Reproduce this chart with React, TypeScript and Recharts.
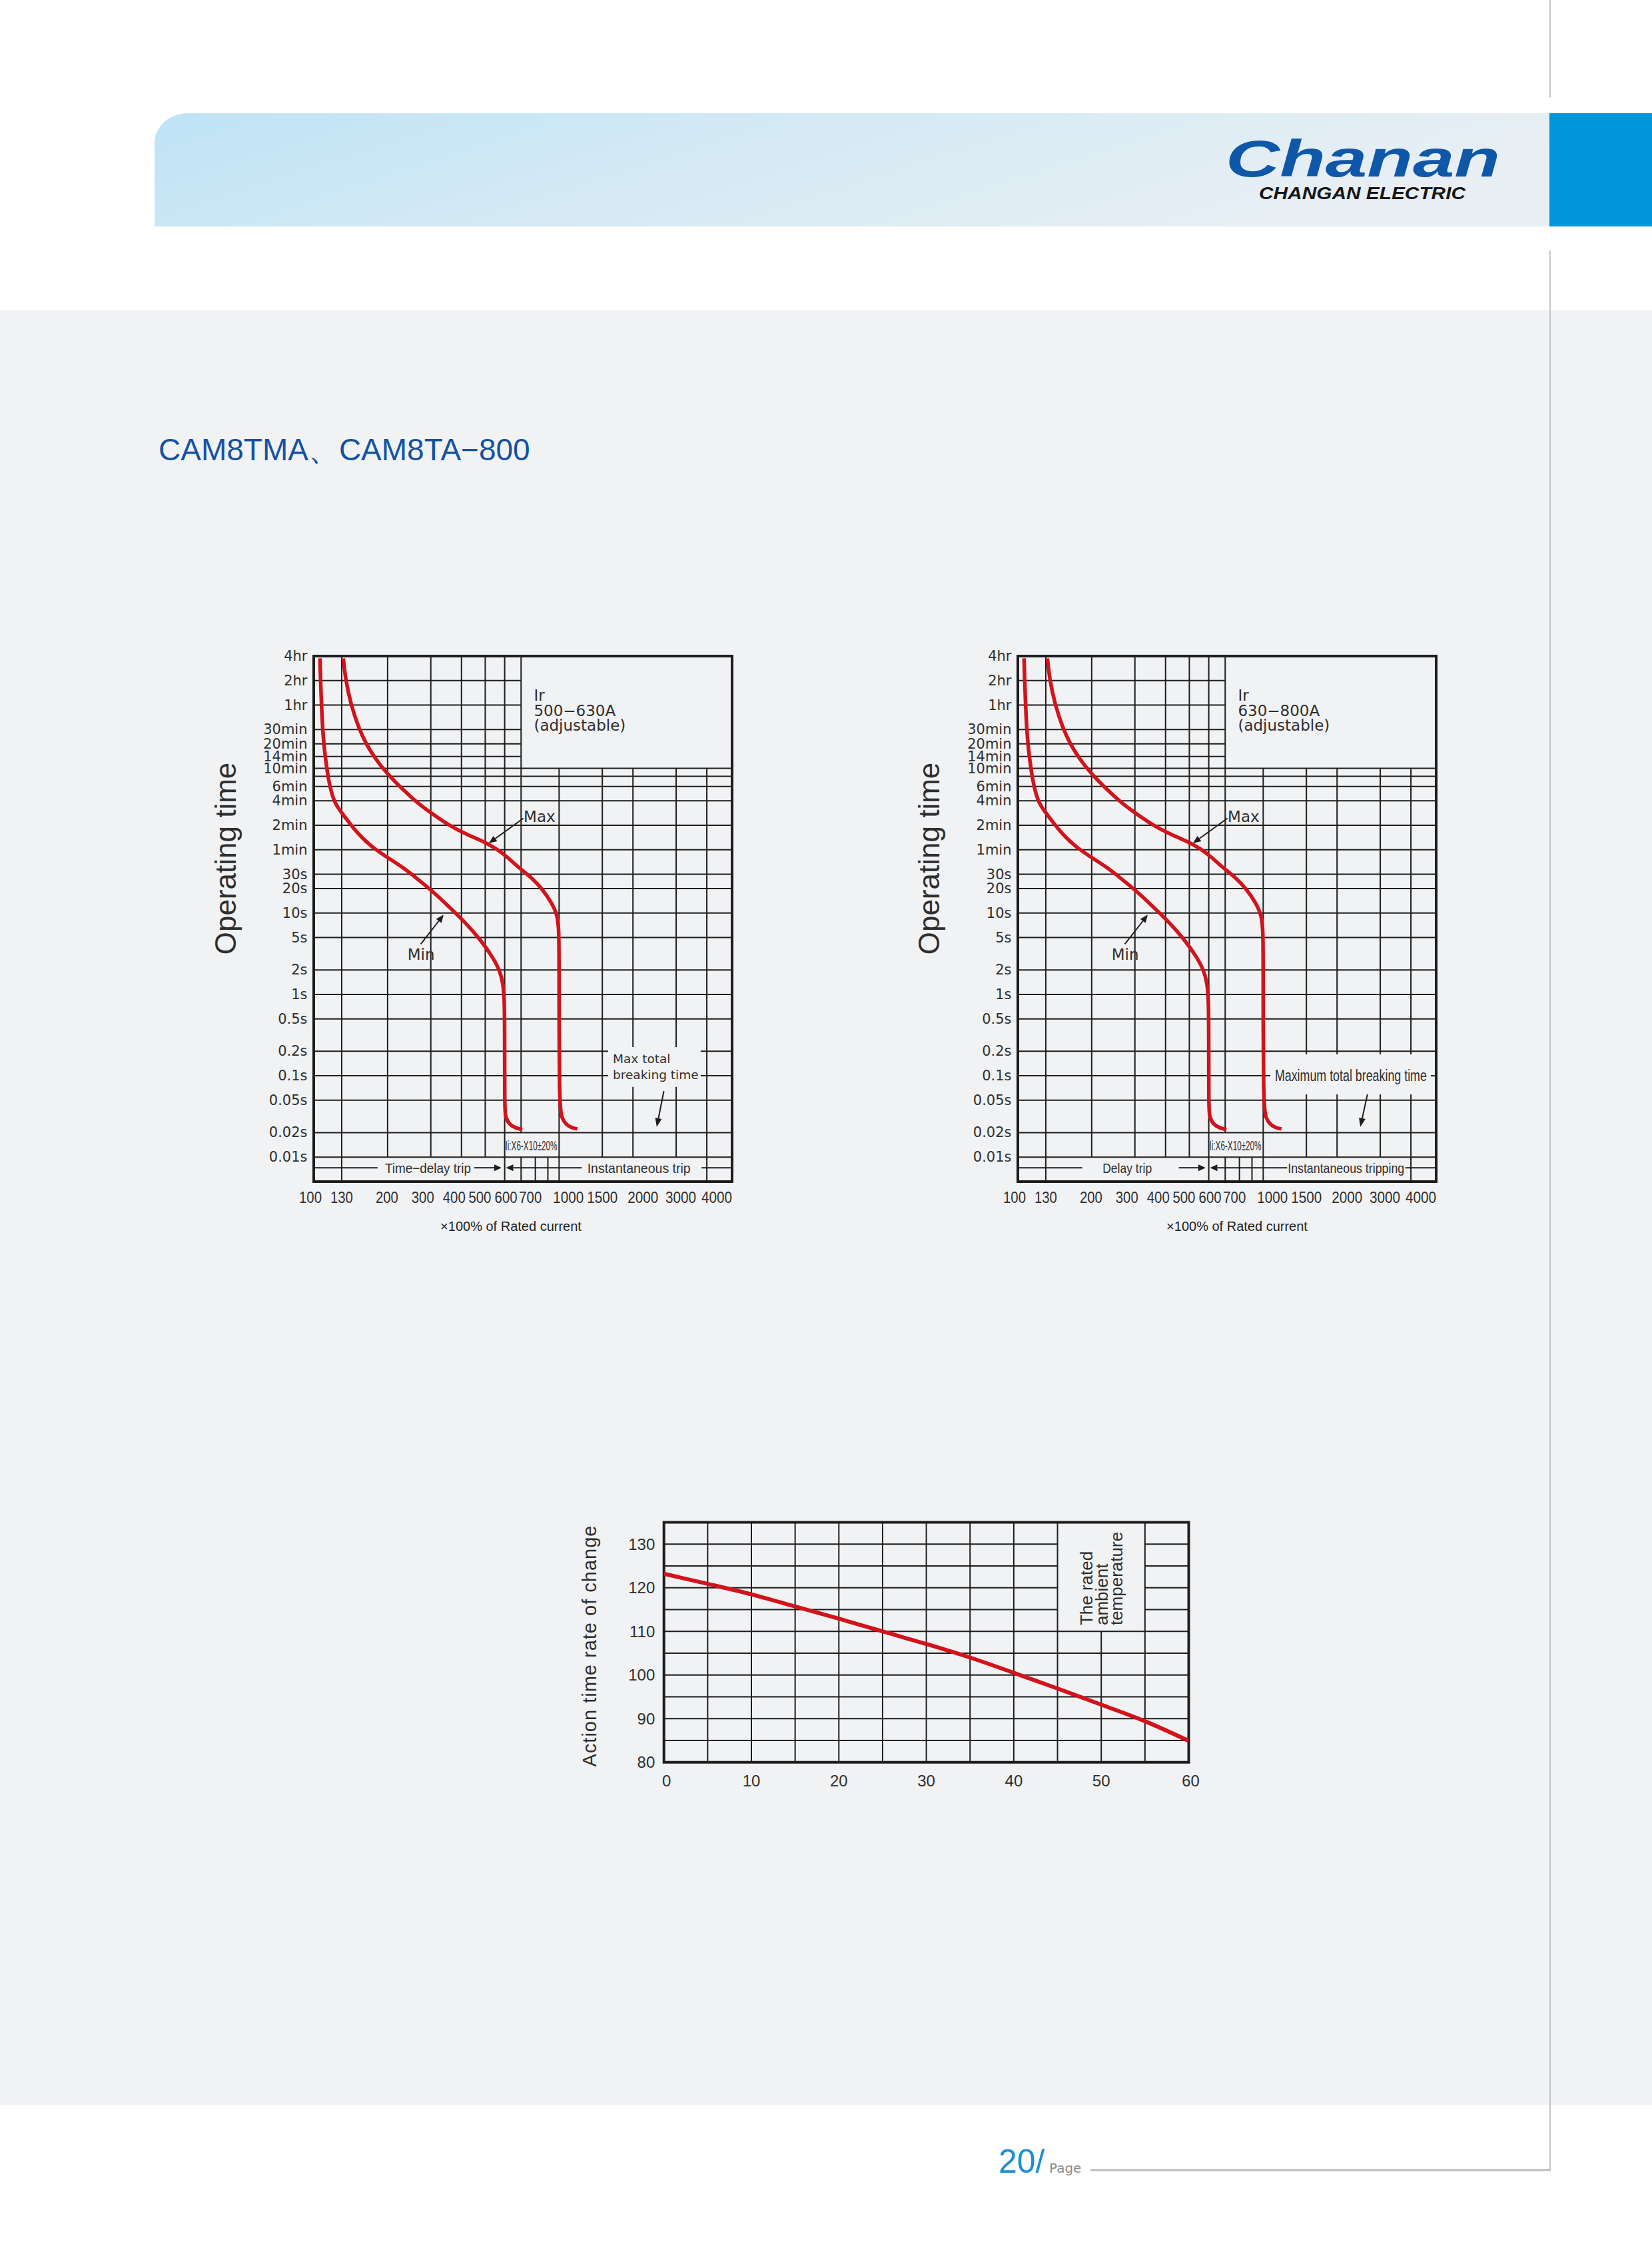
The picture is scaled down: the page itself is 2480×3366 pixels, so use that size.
import React from "react";
import { LineChart, Line, XAxis, YAxis, ReferenceLine, ReferenceDot, ReferenceArea } from "recharts";

const SANS = "'Liberation Sans', Arial, Helvetica, sans-serif";
const WIDE = "'DejaVu Sans', Verdana, sans-serif";
const RED = "#d2131c";
const INK = "#1d1d1d";
const TXT = "#2e2e2e";
const PAGE_GREY = "#f1f2f4";

// time-current curves: [multiple of rated current (%), operating time (s)]
const minCurve: [number, number][] = [
  [106, 13500], [106.6, 7540], [107.5, 3590], [108.7, 1880], [110, 1170], [111.6, 800],
  [112.8, 640], [114.7, 446], [117.6, 318], [121.4, 231], [127.8, 182], [136.1, 142],
  [145.8, 109], [157.9, 83], [174.9, 63], [200, 48], [229, 37], [262, 27], [300, 19.3],
  [344, 13.2], [422, 7.3], [483, 4.5], [535, 2.9], [572, 2.0], [592, 1.36], [599, 0.8],
  [600, 0.3], [600, 0.043], [603, 0.031], [628, 0.025], [662, 0.0229], [708, 0.0218],
];
const maxCurve: [number, number][] = [
  [132, 13500], [134.6, 7540], [141.9, 3590], [152.5, 1880], [164, 1170], [178.2, 800],
  [187.8, 640], [208.6, 446], [233.9, 318], [262, 231], [294, 178], [356, 119], [422, 92],
  [490, 76], [555, 62], [617, 48.5], [678, 37], [776, 27], [859, 19.3], [935, 13.2], [983, 9.5],
  [998, 6.2], [1000, 3], [1000, 0.043], [1025, 0.03], [1069, 0.025], [1126, 0.0229], [1187, 0.0222],
];

const currentTicks = [100, 130, 200, 300, 400, 500, 600, 700, 1000, 1500, 2000, 3000, 4000];
const timeTicks = [14400, 7200, 3600, 1800, 1200, 840, 600, 360, 240, 120, 60, 30, 20, 10, 5, 2, 1, 0.5, 0.2, 0.1, 0.05, 0.02, 0.01];
const timeLabels = ["4hr", "2hr", "1hr", "30min", "20min", "14min", "10min", "6min", "4min", "2min", "1min", "30s", "20s", "10s", "5s", "2s", "1s", "0.5s", "0.2s", "0.1s", "0.05s", "0.02s", "0.01s"];
const unlabeledTimeLines = [480];
const tripRowCurrents = [800, 900];

// ambient temperature correction
const ambientTemp = [0, 5, 10, 15, 20, 25, 30, 35, 40, 45, 50, 55, 60];
const rateOfChange = [123.2, 120.9, 118.5, 115.7, 112.9, 110, 107.1, 104, 100.5, 96.9, 93.2, 89.4, 84.9];
const tempTicks = [0, 10, 20, 30, 40, 50, 60];
const rateTicks = [80, 90, 100, 110, 120, 130];
const tempGrid = [5, 10, 15, 20, 25, 30, 35, 40, 45, 50, 55];
const rateGrid = [85, 90, 95, 100, 105, 110, 115, 120, 125, 130];

const X_MIN = 100;
const X_MAX = 5070;
const T_MIN = 0.005;
const T_MAX = 14400;
const T_ROW = 0.0074;

type Seg = [number, number, number, number];

const currentNudge: Record<number, number> = {
  100: -5, 130: 0, 200: -1, 300: -12, 400: -11, 500: -8, 600: 2, 700: 14,
  1000: 14, 1500: 0, 2000: 15, 3000: 7, 4000: 15,
};

const segLines = (segs: Seg[], prefix: string, width = 2) =>
  segs.map(([x1, y1, x2, y2], k) => (
    <ReferenceLine
      key={`${prefix}${k}`}
      segment={[{ x: x1, y: y1 }, { x: x2, y: y2 }]}
      stroke={INK}
      strokeWidth={width}
      ifOverflow="visible"
      zIndex={-50}
    />
  ));

const arrowShape = (len = 12, half = 5) => (p: any) => {
  const { x1, y1, x2, y2 } = p;
  const dx = x2 - x1;
  const dy = y2 - y1;
  const d = Math.hypot(dx, dy) || 1;
  const ux = dx / d;
  const uy = dy / d;
  const bx = x2 - ux * len;
  const by = y2 - uy * len;
  return (
    <g>
      <line x1={x1} y1={y1} x2={bx} y2={by} stroke={INK} strokeWidth={2} />
      <polygon
        points={`${x2},${y2} ${bx - uy * half},${by + ux * half} ${bx + uy * half},${by - ux * half}`}
        fill={INK}
      />
    </g>
  );
};

const arrow = (key: string, x1: number, y1: number, x2: number, y2: number, len?: number, half?: number) => (
  <ReferenceLine
    key={key}
    segment={[{ x: x1, y: y1 }, { x: x2, y: y2 }]}
    ifOverflow="visible"
    shape={arrowShape(len, half)}
    zIndex={600}
  />
);

const note = (key: string, x: number, y: number, render: (cx: number, cy: number) => React.ReactNode) => (
  <ReferenceDot
    key={key}
    x={x}
    y={y}
    r={1}
    ifOverflow="visible"
    zIndex={600}
    shape={(p: any) => <g>{render(p.cx, p.cy)}</g>}
  />
);

type Gap = { x0: number; x1: number; t0: number; t1: number; hBroken: number[] };

function tripGrid(gap: Gap): Seg[] {
  const s: Seg[] = [];
  for (const x of currentTicks.slice(1)) {
    if (x === 130 || x === 600) s.push([x, T_MIN, x, T_MAX]);
    else if (x === 700) {
      s.push([x, T_MIN, x, 0.01]);
      s.push([x, 0.02, x, T_MAX]);
    } else if (x < 700) s.push([x, 0.01, x, T_MAX]);
    else {
      const lo = x === 1000 || x === 4000 ? T_MIN : 0.01;
      if (x > gap.x0 && x < gap.x1) {
        s.push([x, lo, x, gap.t0]);
        s.push([x, gap.t1, x, 600]);
      } else s.push([x, lo, x, 600]);
    }
  }
  for (const x of tripRowCurrents) s.push([x, T_MIN, x, 0.01]);
  for (const t of [...timeTicks, ...unlabeledTimeLines]) {
    if (t >= T_MAX) continue;
    if (t > 600) s.push([X_MIN, t, 700, t]);
    else if (gap.hBroken.includes(t)) {
      s.push([X_MIN, t, gap.x0, t]);
      s.push([gap.x1, t, X_MAX, t]);
    } else s.push([X_MIN, t, X_MAX, t]);
  }
  return s;
}

const TimeTick = ({ x, y, payload }: any) => (
  <text x={x} y={y} textAnchor="end" dominantBaseline="central" fontFamily={WIDE} fontSize={21} fill={TXT}>
    {timeLabels[timeTicks.indexOf(payload.value)]}
  </text>
);

const CurrentTick = ({ x, y, payload }: any) => {
  const v = payload.value as number;
  const label = String(v);
  return (
    <text
      x={x + (currentNudge[v] ?? 0)}
      y={y + 23}
      textAnchor="middle"
      dominantBaseline="central"
      fontFamily={SANS}
      fontSize={24}
      fill={TXT}
      textLength={label.length > 3 ? 46 : 34}
      lengthAdjust="spacingAndGlyphs"
    >
      {label}
    </text>
  );
};

type TripConfig = {
  left: number;
  rating: string;
  gap: Gap;
  rowPlain: [number, number][];
  toRight: [number, number];
  toLeft: [number, number];
  rowLabels: [string, number, number][];
  breakingArrow: [number, number, number, number];
  twoLineBreaking: boolean;
};

const tripA: TripConfig = {
  left: 300,
  rating: "500−630A",
  gap: { x0: 1584, x1: 3777, t0: 0.073, t1: 0.225, hBroken: [0.2, 0.1] },
  rowPlain: [[X_MIN, 182], [3807, X_MAX]],
  toRight: [451, 583],
  toLeft: [1237, 607],
  rowLabels: [["Time−delay trip", 292, 129], ["Instantaneous  trip", 2115, 155]],
  breakingArrow: [2673, 0.0649, 2500, 0.0236],
  twoLineBreaking: true,
};

const tripB: TripConfig = {
  left: 1357,
  rating: "630−800A",
  gap: { x0: 1069, x1: 4820, t0: 0.059, t1: 0.183, hBroken: [0.1] },
  rowPlain: [[X_MIN, 183], [3795, X_MAX]],
  toRight: [453, 583],
  toLeft: [1252, 607],
  rowLabels: [["Delay trip", 279, 74], ["Instantaneous tripping", 2176, 175]],
  breakingArrow: [2660, 0.0591, 2489, 0.0236],
  twoLineBreaking: false,
};

function TripCurveChart({ cfg }: { cfg: TripConfig }) {
  const minData = minCurve.map(([i, t]) => ({ i, t }));
  const maxData = maxCurve.map(([i, t]) => ({ i, t }));
  const rowSegs: Seg[] = cfg.rowPlain.map(([a, b]) => [a, T_ROW, b, T_ROW]);
  return (
    <div style={{ position: "absolute", left: cfg.left, top: 940 }}>
      <LineChart width={860} height={940} margin={{ top: 45, right: 61, bottom: 56, left: 51 }}>
        <XAxis
          dataKey="i"
          type="number"
          scale="log"
          domain={[X_MIN, X_MAX]}
          allowDataOverflow
          ticks={currentTicks}
          interval={0}
          height={50}
          axisLine={false}
          tickLine={false}
          tickSize={0}
          tickMargin={0}
          tick={<CurrentTick />}
        />
        <YAxis
          type="number"
          scale="log"
          domain={[T_MIN, T_MAX]}
          allowDataOverflow
          ticks={timeTicks}
          interval={0}
          width={120}
          axisLine={false}
          tickLine={false}
          tickSize={0}
          tickMargin={9.5}
          tick={<TimeTick />}
        />
        {segLines(tripGrid(cfg.gap), "g")}
        {segLines(rowSegs, "r")}
        <ReferenceArea
          x1={X_MIN}
          x2={X_MAX}
          y1={T_MIN}
          y2={T_MAX}
          fill="none"
          stroke={INK}
          strokeWidth={4}
          ifOverflow="visible"
          zIndex={-40}
        />
        <Line data={minData} dataKey="t" type="basis" stroke={RED} strokeWidth={5.5} dot={false} activeDot={false} isAnimationActive={false} />
        <Line data={maxData} dataKey="t" type="basis" stroke={RED} strokeWidth={5.5} dot={false} activeDot={false} isAnimationActive={false} />

        {arrow("ar", cfg.toRight[0], T_ROW, cfg.toRight[1], T_ROW, 11, 5)}
        {arrow("al", cfg.toLeft[0], T_ROW, cfg.toLeft[1], T_ROW, 11, 5)}
        {cfg.rowLabels.map(([label, x, w], k) =>
          note(`rl${k}`, x, T_ROW, (cx, cy) => (
            <text x={cx} y={cy} textAnchor="middle" dominantBaseline="central" fontFamily={SANS} fontSize={21} fill={TXT} textLength={w} lengthAdjust="spacingAndGlyphs">
              {label}
            </text>
          ))
        )}
        {note("ii", 770, 0.0138, (cx, cy) => (
          <text x={cx} y={cy} textAnchor="middle" dominantBaseline="central" fontFamily={SANS} fontSize={20} fill={TXT} textLength={78} lengthAdjust="spacingAndGlyphs">
            Ii:X6-X10±20%
          </text>
        ))}
        {note("ir", 789, 4072, (cx, cy) => (
          <text x={cx} y={cy} fontFamily={WIDE} fontSize={23} fill={TXT}>
            <tspan x={cx} dy={0}>Ir</tspan>
            <tspan x={cx} dy={23}>{cfg.rating}</tspan>
            <tspan x={cx} dy={22}>(adjustable)</tspan>
          </text>
        ))}
        {note("max", 717, 132, (cx, cy) => (
          <text x={cx} y={cy} fontFamily={WIDE} fontSize={23} fill={TXT}>Max</text>
        ))}
        {arrow("amax", 715, 146, 517, 72, 12, 5)}
        {note("min", 241, 2.66, (cx, cy) => (
          <text x={cx} y={cy} fontFamily={WIDE} fontSize={23} fill={TXT}>Min</text>
        ))}
        {arrow("amin", 273, 4.15, 338.5, 9.54, 12, 5)}
        {cfg.twoLineBreaking
          ? note("brk", 1656, 0.1433, (cx, cy) => (
              <text x={cx} y={cy} fontFamily={WIDE} fontSize={18.5} fill={TXT}>
                <tspan x={cx} dy={0}>Max total</tspan>
                <tspan x={cx} dy={24}>breaking time</tspan>
              </text>
            ))
          : note("brk", 1116, 0.1, (cx, cy) => (
              <text x={cx} y={cy} dominantBaseline="central" fontFamily={SANS} fontSize={23} fill={TXT} textLength={228} lengthAdjust="spacingAndGlyphs">
                Maximum total breaking time
              </text>
            ))}
        {arrow("abrk", ...cfg.breakingArrow, 13, 5)}
      </LineChart>
    </div>
  );
}

const RateTick = ({ x, y, payload }: any) => (
  <text x={x} y={y} textAnchor="end" dominantBaseline="central" fontFamily={SANS} fontSize={24} fill={TXT}>
    {payload.value}
  </text>
);

const TempTick = ({ x, y, payload }: any) => (
  <text x={x + (payload.value === 0 ? 4 : payload.value === 60 ? 3 : 0)} y={y + 27.6} textAnchor="middle" dominantBaseline="central" fontFamily={SANS} fontSize={24} fill={TXT}>
    {payload.value}
  </text>
);

function AmbientChart() {
  const data = ambientTemp.map((x, k) => ({ x, r: rateOfChange[k] }));
  const segs: Seg[] = [];
  for (const x of tempGrid) segs.push(x === 50 ? [x, 80, x, 110] : [x, 80, x, 135]);
  for (const y of rateGrid) {
    if (y > 110) {
      segs.push([0, y, 45, y]);
      segs.push([55, y, 60, y]);
    } else segs.push([0, y, 60, y]);
  }
  return (
    <div style={{ position: "absolute", left: 850, top: 2240 }}>
      <LineChart width={980} height={470} margin={{ top: 45.5, right: 45.5, bottom: 24.3, left: 46.7 }}>
        <XAxis
          dataKey="x"
          type="number"
          domain={[0, 60]}
          allowDataOverflow
          ticks={tempTicks}
          interval={0}
          height={40}
          axisLine={false}
          tickLine={false}
          tickSize={0}
          tickMargin={0}
          tick={<TempTick />}
        />
        <YAxis
          type="number"
          domain={[80, 135]}
          allowDataOverflow
          ticks={rateTicks}
          interval={0}
          width={100}
          axisLine={false}
          tickLine={false}
          tickSize={0}
          tickMargin={13.4}
          tick={<RateTick />}
        />
        {segLines(segs, "t")}
        <ReferenceArea x1={0} x2={60} y1={80} y2={135} fill="none" stroke={INK} strokeWidth={4} ifOverflow="visible" zIndex={-40} />
        <Line data={data} dataKey="r" type="monotone" stroke={RED} strokeWidth={6} dot={false} activeDot={false} isAnimationActive={false} />
        {note("amb", 49, 111.4, (cx, cy) => (
          <text x={cx} y={cy} transform={`rotate(-90 ${cx} ${cy})`} fontFamily={SANS} fontSize={26} fill={TXT}>
            <tspan x={cx} dy={0}>The rated</tspan>
            <tspan x={cx} dy={22.5}>ambient</tspan>
            <tspan x={cx} dy={22.5}>temperature</tspan>
          </text>
        ))}
      </LineChart>
    </div>
  );
}

function PageBackdrop() {
  return (
    <svg width={2480} height={3366} style={{ position: "absolute", left: 0, top: 0 }}>
      <defs>
        <linearGradient id="band" x1="0" y1="0" x2="1" y2="0.25">
          <stop offset="0" stopColor="#bee3f6" />
          <stop offset="0.5" stopColor="#d6eaf4" />
          <stop offset="1" stopColor="#e8eff4" />
        </linearGradient>
      </defs>
      <rect x={0} y={0} width={2480} height={3366} fill="#ffffff" />
      <rect x={0} y={466} width={2480} height={2694} fill={PAGE_GREY} />
      <path d="M282 170 H2326 V340 H232 V215 A50 45 0 0 1 282 170 Z" fill="url(#band)" />
      <rect x={2326} y={170} width={154} height={170} fill="#0096da" />
      <line x1={2327} y1={0} x2={2327} y2={146} stroke="#c4c4c4" strokeWidth={2} />
      <line x1={2327} y1={376} x2={2327} y2={3259} stroke="#c4c4c4" strokeWidth={2} />
      <line x1={1637} y1={3258} x2={2328} y2={3258} stroke="#bcbcbc" strokeWidth={3} />

      <text transform="translate(1840 265) scale(1 1.25)" x={0} y={0} fontFamily={SANS} fontWeight={900} fontStyle="italic" fontSize={62} fill="#0f57a8" textLength={412} lengthAdjust="spacingAndGlyphs">
        Chanan
      </text>
      <text x={1890} y={299} fontFamily={SANS} fontWeight={700} fontStyle="italic" fontSize={25} fill="#161616" textLength={310} lengthAdjust="spacingAndGlyphs">
        CHANGAN ELECTRIC
      </text>

      <text x={238} y={691} fontFamily={SANS} fontSize={46} fill="#1452a2">
        CAM8TMA、CAM8TA−800
      </text>

      <text x={354} y={1289} transform="rotate(-90 354 1289)" textAnchor="middle" fontFamily={SANS} fontSize={44} fill={TXT}>
        Operating time
      </text>
      <text x={1409.5} y={1289} transform="rotate(-90 1409.5 1289)" textAnchor="middle" fontFamily={SANS} fontSize={44} fill={TXT}>
        Operating time
      </text>
      <text x={767} y={1848} textAnchor="middle" fontFamily={SANS} fontSize={20} fill="#222">
        ×100% of Rated current
      </text>
      <text x={1857} y={1848} textAnchor="middle" fontFamily={SANS} fontSize={20} fill="#222">
        ×100% of Rated current
      </text>
      <text x={895} y={2471} transform="rotate(-90 895 2471)" textAnchor="middle" fontFamily={SANS} fontSize={29} letterSpacing={1} fill={TXT}>
        Action time rate of change
      </text>

      <text x={1499} y={3262} fontFamily={SANS} fontSize={50} fill="#1b8fd3">
        20/
      </text>
      <text x={1575} y={3262} fontFamily={WIDE} fontSize={20} fill="#8a8a8a">
        Page
      </text>
    </svg>
  );
}

export default function App() {
  return (
    <div style={{ position: "absolute", left: 0, top: 0, width: 2480, height: 3366, overflow: "hidden", background: "#fff" }}>
      <PageBackdrop />
      <TripCurveChart cfg={tripA} />
      <TripCurveChart cfg={tripB} />
      <AmbientChart />
    </div>
  );
}
